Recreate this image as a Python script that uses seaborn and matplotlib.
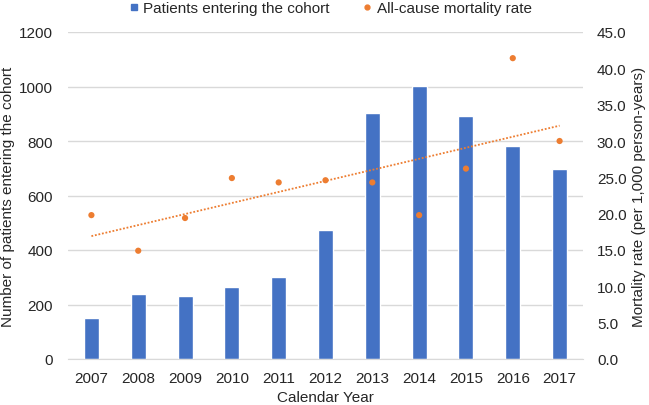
import numpy as np
import pandas as pd
import matplotlib
matplotlib.use("Agg")
import matplotlib.pyplot as plt
from matplotlib.lines import Line2D
import seaborn as sns

years = [2007, 2008, 2009, 2010, 2011, 2012, 2013, 2014, 2015, 2016, 2017]
patients = [150, 240, 233, 265, 300, 472, 904, 1003, 890, 782, 697]
mortality = [19.8, 14.9, 19.4, 24.9, 24.3, 24.6, 24.3, 19.8, 26.2, 41.4, 30.0]

blue = '#4472C4'
orange = '#ED7D31'
grid = '#D9D9D9'

sns.set_style('white')
plt.rcParams['font.family'] = ['Liberation Sans', 'DejaVu Sans']

df = pd.DataFrame({'year': [str(y) for y in years],
                   'patients': patients,
                   'pos': np.arange(len(years)),
                   'mortality': mortality})

fig = plt.figure(figsize=(6.49, 4.06), dpi=100)
ax = fig.add_axes([68 / 649, 46 / 406, 515 / 649, 327 / 406])
ax2 = ax.twinx()

# bars on the left axis
sns.barplot(data=df, x='year', y='patients', color=blue, width=0.32,
            saturation=1, ax=ax, zorder=2)
ax.set_ylim(0, 1200)
ax.set_yticks(range(0, 1201, 200))
ax.set_xlim(-0.5, len(years) - 0.5)
ax.yaxis.grid(True, color=grid, linewidth=1)
ax.set_axisbelow(True)
ax.set_xlabel('Calendar Year', fontsize=11, labelpad=3)
ax.set_ylabel('Number of patients entering the cohort', fontsize=11, labelpad=3)
ax.tick_params(axis='y', labelsize=11, length=0, pad=11)
ax.tick_params(axis='x', labelsize=11, length=0, pad=9)

# mortality dots + linear trend on the right axis
sns.scatterplot(data=df, x='pos', y='mortality', color=orange, s=20,
                edgecolor='none', ax=ax2, zorder=3)
sns.regplot(data=df, x='pos', y='mortality', scatter=False, ci=None,
            truncate=True, color=orange, ax=ax2,
            line_kws={'linestyle': (0, (1, 1)), 'linewidth': 1.3})
ax2.set_ylim(0, 45)
ax2.set_yticks(np.arange(0, 45.1, 5))
ax2.set_yticklabels([f'{v:.1f}' for v in np.arange(0, 45.1, 5)])
ax2.set_xlim(-0.5, len(years) - 0.5)
ax2.set_ylabel('Mortality rate (per 1,000 person-years)', fontsize=11, labelpad=4)
ax2.tick_params(axis='y', labelsize=11, length=0, pad=10)
ax2.set_xlabel('')

for a in (ax, ax2):
    for s in a.spines.values():
        s.set_visible(False)
ax.spines['bottom'].set_visible(True)
ax.spines['bottom'].set_color(grid)

handles = [Line2D([], [], marker='s', color=blue, linestyle='none', markersize=5),
           Line2D([], [], marker='o', color=orange, linestyle='none', markersize=3.5)]
fig.legend(handles, ['Patients entering the cohort', 'All-cause mortality rate'],
           loc='center', bbox_to_anchor=(0.51, 1 - 9 / 406), ncol=2, frameon=False,
           fontsize=11, handlelength=0.5, handletextpad=0.4, columnspacing=2.2,
           borderpad=0)

fig.savefig('out.png', dpi=100)
